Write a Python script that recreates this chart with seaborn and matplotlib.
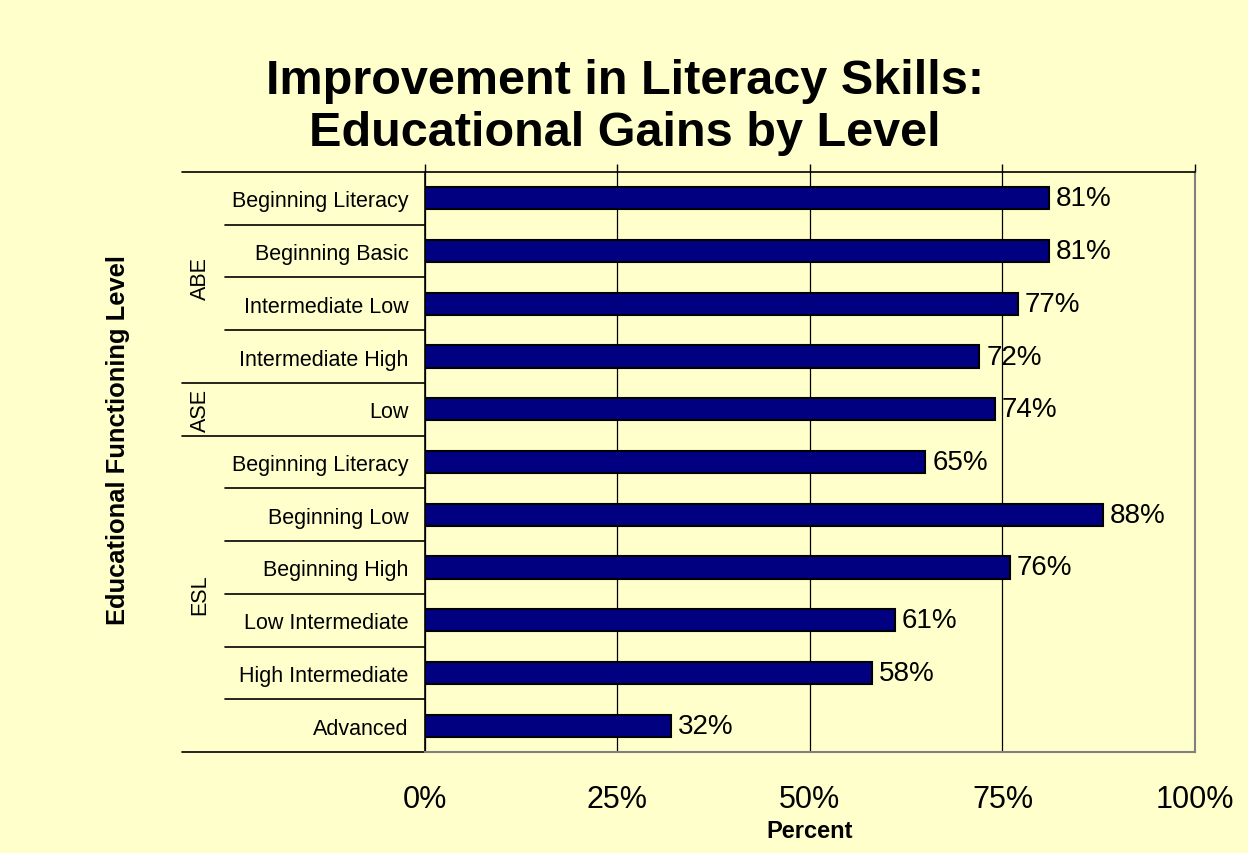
import matplotlib
matplotlib.use("Agg")
import matplotlib.pyplot as plt
from matplotlib import font_manager
import seaborn as sns
import pandas as pd

# Data
groups = ["ABE", "ABE", "ABE", "ABE", "ASE", "ESL", "ESL", "ESL", "ESL", "ESL", "ESL"]
levels = ["Beginning Literacy", "Beginning Basic", "Intermediate Low", "Intermediate High",
          "Low",
          "Beginning Literacy", "Beginning Low", "Beginning High", "Low Intermediate",
          "High Intermediate", "Advanced"]
gains = [81, 81, 77, 72, 74, 65, 88, 76, 61, 58, 32]
xticks = [0, 25, 50, 75, 100]

df = pd.DataFrame({"group": groups, "level": levels, "gain": gains})
df["key"] = df["group"] + " | " + df["level"]

bg = "#FFFFCC"
navy = "#000080"

sns.set_style("white")
plt.rcParams["font.family"] = ["Liberation Sans", "DejaVu Sans"]
plt.rcParams["text.color"] = "black"
plt.rcParams["xtick.color"] = "black"
plt.rcParams["ytick.color"] = "black"
plt.rcParams["axes.labelcolor"] = "black"
names = {f.name for f in font_manager.fontManager.ttflist}
narrow = "Liberation Sans Narrow" if "Liberation Sans Narrow" in names else "Liberation Sans"

fig = plt.figure(figsize=(12.48, 8.54), dpi=100, facecolor=bg)
ax = fig.add_axes([0.3405, 0.1183, 0.617, 0.6791])
ax.set_facecolor(bg)

sns.barplot(data=df, x="gain", y="key", orient="h", color=navy, saturation=1,
            width=0.42, edgecolor="black", linewidth=1.5, ax=ax)

for cont in ax.containers:
    ax.bar_label(cont, fmt="%d%%", padding=5, fontsize=20, color="black")

ax.set_xlim(0, 100)
ax.set_ylim(len(levels) - 0.5, -0.5)
ax.set_xticks(xticks)
ax.set_xticklabels([f"{t}%" for t in xticks], fontsize=22, family=narrow)
ax.set_yticks(range(len(levels)))
ax.set_yticklabels(levels, fontsize=15.5)
ax.tick_params(axis="y", length=0, pad=12)
ax.tick_params(axis="x", bottom=False, top=True, labelbottom=True, labeltop=False,
               direction="out", length=6, width=1, color="black", pad=17)
ax.grid(axis="x", color="black", linewidth=0.9)
ax.grid(axis="y", visible=False)
ax.set_axisbelow(True)

for side in ["top", "left"]:
    ax.spines[side].set_color("black")
    ax.spines[side].set_linewidth(1.2)
for side in ["right", "bottom"]:
    ax.spines[side].set_color("#808080")
    ax.spines[side].set_linewidth(1.5)

ax.set_xlabel("Percent", fontsize=17, fontweight="bold", family=narrow, labelpad=4)
ax.set_ylabel("")

# Group labels and separator lines in the label area
ytr = ax.get_yaxis_transform()
start = 0
for g in pd.unique(df["group"]):
    n = int((df["group"] == g).sum())
    ax.text(-0.292, start + (n - 1) / 2, g, transform=ytr, rotation=90,
            ha="center", va="center", fontsize=15.5, clip_on=False)
    ax.plot([-0.3156, 0], [start - 0.5, start - 0.5], transform=ytr, color="black",
            linewidth=1.2, clip_on=False)
    for k in range(1, n):
        ax.plot([-0.2597, 0], [start + k - 0.5, start + k - 0.5], transform=ytr,
                color="black", linewidth=1.2, clip_on=False)
    start += n
ax.plot([-0.3156, 0], [start - 0.5, start - 0.5], transform=ytr, color="black",
        linewidth=1.2, clip_on=False)

fig.text(0.0946, 0.4848, "Educational Functioning Level", rotation=90, ha="center",
         va="center", fontsize=18.4, fontweight="bold")
fig.text(0.5008, 0.874, "Improvement in Literacy Skills:\nEducational Gains by Level",
         ha="center", va="center", fontsize=35, fontweight="bold", linespacing=1.22)

fig.savefig("out.png", dpi=100, facecolor=bg)
